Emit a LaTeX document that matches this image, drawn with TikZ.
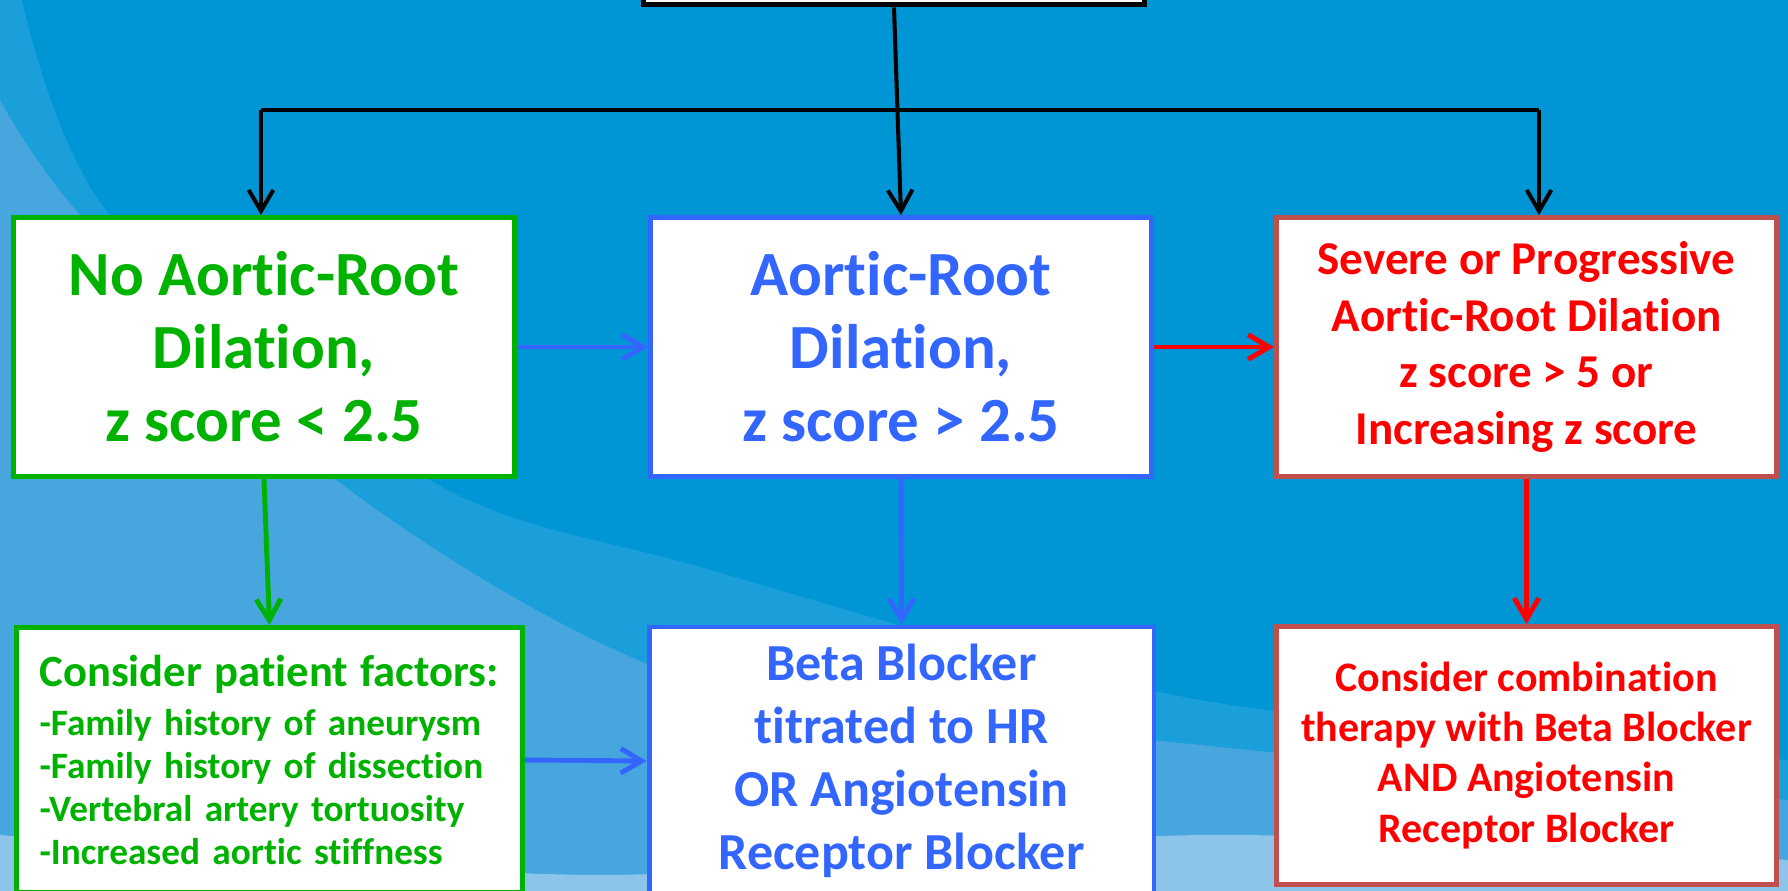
\documentclass[tikz,border=0pt]{standalone}
\usepackage{fontspec}
\setmainfont{Carlito}[Ligatures=NoCommon,RawFeature={-liga;-clig}]
\usetikzlibrary{arrows.meta}
\definecolor{bgblue}{RGB}{0,150,214}
\definecolor{bgmid}{RGB}{26,159,219}
\definecolor{bglight}{RGB}{70,166,221}
\definecolor{bgpale}{RGB}{140,196,234}
\definecolor{grn}{RGB}{0,178,0}
\definecolor{blu}{RGB}{51,102,255}
\definecolor{redtxt}{RGB}{255,0,0}
\definecolor{redline}{RGB}{192,80,77}
\begin{document}
\begin{tikzpicture}[x=0.02cm,y=-0.02cm,
  box/.style={draw,fill=white,line width=2.8pt,inner sep=0pt,align=center,font=\bfseries},
  arr/.style={line width=2.3pt,-{Straight Barb[length=12pt,width=14pt]}},
  colarr/.style={arr,line width=2.8pt}]
\useasboundingbox (0,0) rectangle (1788,891);
\clip (0,0) rectangle (1788,891);
\fill[bgblue] (0,0) rectangle (1788,891);
\fill[bgmid] (0,0) -- plot[smooth] coordinates {(22,0) (110,215) (430,480) (700,567) (1200,700) (1788,760)} -- (1788,891) -- (0,891) -- cycle;
\fill[bglight] (0,100) -- plot[smooth] coordinates {(0,100) (80,215) (340,483) (700,683) (1200,745) (1788,800)} -- (1788,891) -- (0,891) -- cycle;
\fill[bgpale] (0,835) -- plot[smooth] coordinates {(0,835) (600,875) (1200,835) (1788,860)} -- (1788,891) -- (0,891) -- cycle;

\node[box,draw=black,line width=3.2pt,minimum width=10.02cm,minimum height=4cm] (top) at (894,-95.5) {};

\node[box,draw=grn,text=grn,minimum width=10.02cm,minimum height=5.18cm,font=\bfseries\fontsize{35.8}{41.5}\selectfont] (no) at (264,347) {No Aortic-Root\\Dilation,\\z score < 2.5};
\node[box,draw=blu,text=blu,minimum width=10.02cm,minimum height=5.18cm,font=\bfseries\fontsize{35.8}{41.5}\selectfont] (dil) at (901,347) {Aortic-Root\\Dilation,\\z score > 2.5};
\node[box,draw=redline,text=redtxt,minimum width=10cm,minimum height=5.18cm,font=\bfseries\fontsize{26.8}{32.4}\selectfont] (sev) at (1526.5,347) {Severe or Progressive\\Aortic-Root Dilation\\z score > 5 or\\Increasing z score};

\node[box,draw=grn,text=grn,minimum width=10.12cm,minimum height=5.3cm,align=left,text width=9.2cm,font=\bfseries\fontsize{21.2}{24.5}\selectfont] (pat) at (269.5,760) {{\fontsize{25.4}{28}\selectfont Consider patient factors:}\\[3pt]-Family history of aneurysm\\-Family history of dissection\\-Vertebral artery tortuosity\\-Increased aortic stiffness};
\node[box,draw=blu,text=blu,minimum width=10.1cm,minimum height=5.36cm,font=\bfseries\fontsize{29.6}{35.8}\selectfont] (bb) at (901.5,761) {Beta Blocker\\titrated to HR\\OR Angiotensin\\Receptor Blocker};
\node[box,draw=redline,text=redtxt,minimum width=10cm,minimum height=5.16cm,font=\bfseries\fontsize{23.9}{28.5}\selectfont] (comb) at (1526.5,755.5) {Consider combination\\therapy with Beta Blocker\\AND Angiotensin\\Receptor Blocker};

\coordinate (bl) at (261,110);
\coordinate (br) at (1539,110);
\draw[line width=2.3pt] (bl) -- (br);
\draw[arr] (top.south) -- (dil.north);
\draw[arr] (bl) -- (bl |- no.north);
\draw[arr] (br) -- (br |- sev.north);

\draw[colarr,blu] (no.east) -- (dil.west);
\draw[colarr,redtxt] (dil.east) -- (sev.west);
\draw[colarr,grn] (no.south) -- (pat.north);
\draw[colarr,blu] (dil.south) -- (bb.north);
\draw[colarr,redtxt] (sev.south) -- (comb.north);
\draw[colarr,blu] (pat.east) -- (bb.west);
\end{tikzpicture}
\end{document}
